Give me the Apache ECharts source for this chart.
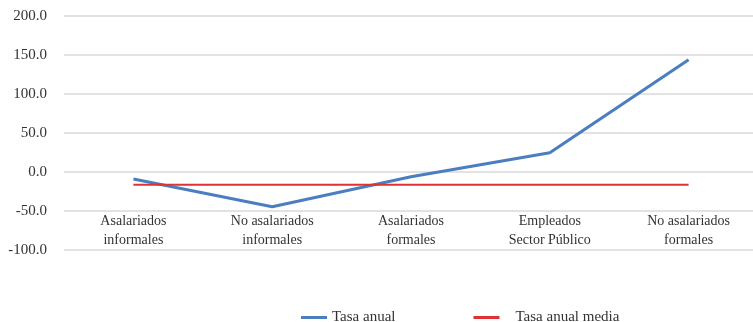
<!DOCTYPE html>
<html>
<head>
<meta charset="utf-8">
<script src="https://cdn.jsdelivr.net/npm/echarts@6/dist/echarts.min.js"></script>
<style>
  html, body { margin: 0; padding: 0; background: #fff; overflow: hidden; }
  #chart { width: 760px; height: 322px; }
</style>
</head>
<body>
<div id="chart"></div>
<script>
// Categorías de ocupación
const categorias = [
  'Asalariados\ninformales',
  'No asalariados\ninformales',
  'Asalariados\nformales',
  'Empleados\nSector Público',
  'No asalariados\nformales'
];
// Tasa anual por categoría (%)
const tasaAnual = [-9.0, -44.5, -6.0, 24.7, 144.0];
// Tasa anual media (constante)
const tasaAnualMedia = [-16.3, -16.3, -16.3, -16.3, -16.3];

const ejeY = { min: -100, max: 200, interval: 50 };

const serif = '"Liberation Serif", "DejaVu Serif", serif';
const chart = echarts.init(document.getElementById('chart'));
chart.setOption({
  animation: false,
  textStyle: { fontFamily: serif },
  grid: { left: 64, right: 2, top: 16, bottom: 72 },
  legend: {
    left: 296,
    top: 305,
    itemWidth: 26,
    itemHeight: 3,
    itemGap: 78,
    textStyle: { fontFamily: serif, fontSize: 15, color: '#333' },
    data: [
      { name: 'Tasa anual', icon: 'rect' },
      { name: 'Tasa anual media', icon: 'rect', textStyle: { padding: [0, 0, 0, 11] } }
    ]
  },
  xAxis: {
    type: 'category',
    data: categorias,
    position: 'bottom',
    offset: -39,
    axisLine: { show: false },
    axisTick: { show: false },
    axisLabel: {
      margin: 1,
      fontFamily: serif,
      fontSize: 14,
      lineHeight: 19,
      color: '#333',
      interval: 0
    }
  },
  yAxis: {
    type: 'value',
    min: ejeY.min,
    max: ejeY.max,
    interval: ejeY.interval,
    axisLine: { show: false },
    axisTick: { show: false },
    axisLabel: {
      margin: 17,
      fontFamily: serif,
      fontSize: 15,
      color: '#333',
      formatter: v => v.toFixed(1)
    },
    splitLine: { lineStyle: { color: '#d9d9d9', width: 1.5 } }
  },
  series: [
    {
      name: 'Tasa anual',
      type: 'line',
      data: tasaAnual,
      symbol: 'none',
      lineStyle: { color: '#4a7ebf', width: 3 },
      itemStyle: { color: '#4a7ebf' }
    },
    {
      name: 'Tasa anual media',
      type: 'line',
      data: tasaAnualMedia,
      symbol: 'none',
      lineStyle: { color: '#e03232', width: 2 },
      itemStyle: { color: '#e03232' }
    }
  ]
});
</script>
</body>
</html>
